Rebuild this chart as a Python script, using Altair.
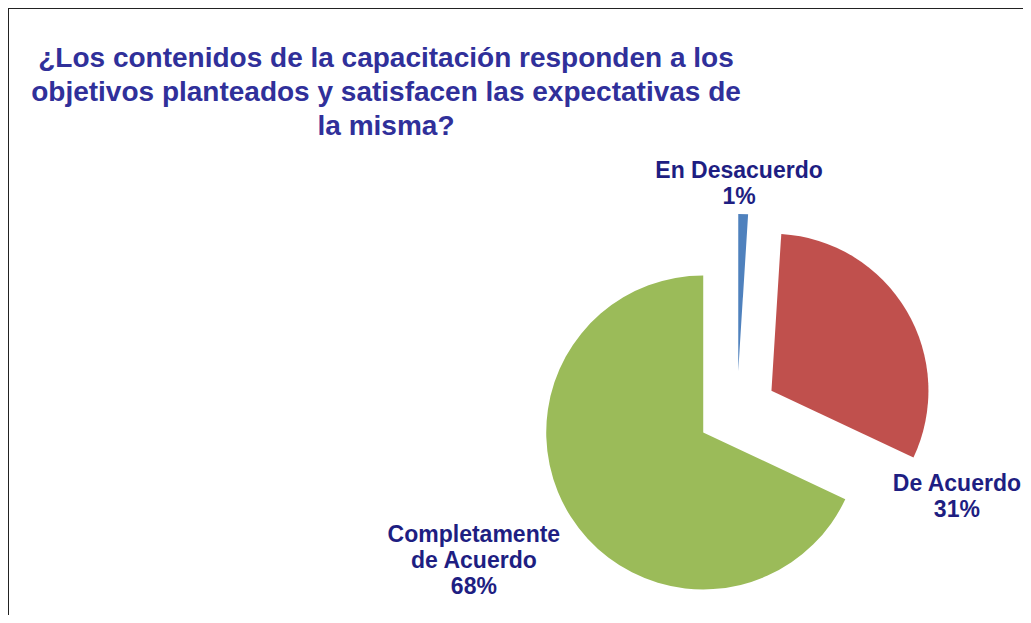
import math
import altair as alt
import pandas as pd

# ---- data ----
categories = ["En Desacuerdo", "De Acuerdo", "Completamente de Acuerdo"]
values = [1, 31, 68]
label_lines = [["En Desacuerdo", "1%"], ["De Acuerdo", "31%"], ["Completamente", "de Acuerdo", "68%"]]
title_lines = [
    "¿Los contenidos de la capacitación responden a los",
    "objetivos planteados y satisfacen las expectativas de",
    "la misma?",
]

# ---- style / layout ----
colors = ["#4F81BD", "#C0504D", "#9BBB59"]
W, H = 1015, 607
CX, CY = 729, 403          # pie centre (chart coords)
R = 157                    # pie radius
EXPLODE = 40               # explosion distance
label_polar = {            # first-line baseline placement: (angle deg from 12 o'clock, radius)
    "En Desacuerdo": (0.5, 233),
    "De Acuerdo": (110.0, 234),
    "Completamente de Acuerdo": (243.5, 294),
}
TITLE_COLOR = "#30309A"
LABEL_COLOR = "#1E1E82"
FONT = "Liberation Sans"

df = pd.DataFrame({"category": categories, "value": values, "order": range(len(categories))})
df["label"] = [lines for lines in label_lines]
df["la"] = [label_polar[c][0] for c in categories]
df["lr"] = [label_polar[c][1] for c in categories]

base = alt.Chart(df).transform_joinaggregate(
    total="sum(value)"
).transform_window(
    cum="sum(value)", sort=[alt.SortField("order")], frame=[None, 0]
).transform_calculate(
    start="2*PI*(datum.cum - datum.value)/datum.total",
    end="2*PI*datum.cum/datum.total",
).transform_calculate(
    mid="(datum.start + datum.end)/2"
).transform_calculate(
    cx=f"{CX} + {EXPLODE}*sin(datum.mid)",
    cy=f"{CY} - {EXPLODE}*cos(datum.mid)",
    lx=f"{CX} + datum.lr*sin(datum.la*PI/180)",
    ly=f"{CY} - datum.lr*cos(datum.la*PI/180)",
)

arcs = base.mark_arc(radius=R, stroke=None).encode(
    x=alt.X("cx:Q", scale=None),
    y=alt.Y("cy:Q", scale=None),
    theta=alt.Theta("start:Q", scale=None, stack=None),
    theta2="end:Q",
    color=alt.Color("category:N", scale=alt.Scale(domain=categories, range=colors), legend=None),
)

labels = base.mark_text(
    font=FONT, fontSize=23, fontWeight="bold", color=LABEL_COLOR,
    align="center", baseline="alphabetic", lineHeight=26,
).encode(
    x=alt.X("lx:Q", scale=None),
    y=alt.Y("ly:Q", scale=None),
    text="label",
)

title_df = pd.DataFrame({"t": [title_lines]})
title = alt.Chart(title_df).mark_text(
    font=FONT, fontSize=28, fontWeight="bold", color=TITLE_COLOR,
    align="center", baseline="alphabetic", lineHeight=34,
).encode(
    x=alt.value(378), y=alt.value(59), text="t"
)

top_border = alt.Chart(title_df).mark_rule(color="#222222", strokeWidth=2).encode(
    x=alt.value(0), x2=alt.value(W), y=alt.value(0)
)
left_border = alt.Chart(title_df).mark_rule(color="#222222", strokeWidth=2).encode(
    x=alt.value(0), y=alt.value(0), y2=alt.value(H)
)

chart = alt.layer(top_border, left_border, title, arcs, labels).properties(
    width=W, height=H, padding=0, autosize=alt.AutoSizeParams(type="none"),
).configure_view(stroke=None).configure(background="white")

chart.save("out.html", embed_options={"renderer": "svg", "actions": False})
